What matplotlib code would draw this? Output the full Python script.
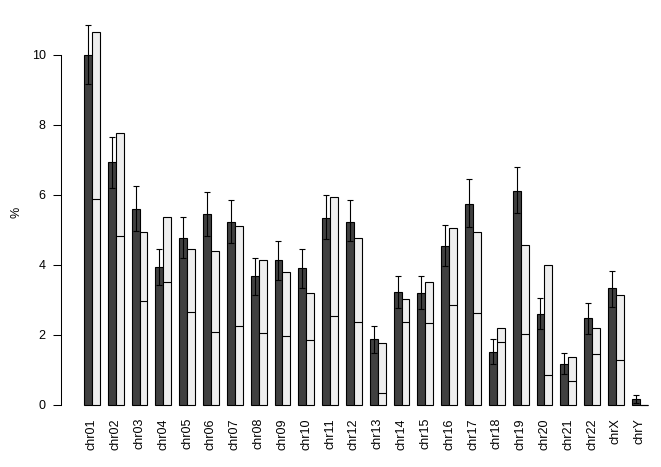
import numpy as np
import matplotlib
matplotlib.use("Agg")
import matplotlib.pyplot as plt

plt.rcParams['font.family'] = ['Liberation Sans', 'DejaVu Sans']

labels = ["chr%02d" % i for i in range(1, 23)] + ["chrX", "chrY"]
dark = [10.0, 6.93, 5.59, 3.93, 4.77, 5.44, 5.21, 3.68, 4.13, 3.90, 5.34, 5.23,
        1.86, 3.22, 3.20, 4.54, 5.73, 1.51, 6.12, 2.60, 1.16, 2.47, 3.32, 0.15]
err_hi = [10.85, 7.66, 6.25, 4.46, 5.36, 6.07, 5.84, 4.18, 4.67, 4.44, 5.99, 5.86,
          2.24, 3.68, 3.68, 5.14, 6.44, 1.87, 6.80, 3.04, 1.48, 2.91, 3.83, 0.27]
err_lo = [9.17, 6.19, 4.95, 3.41, 4.18, 4.82, 4.61, 3.12, 3.55, 3.32, 4.73, 4.67,
          1.47, 2.75, 2.72, 3.95, 5.09, 1.17, 5.48, 2.17, 0.88, 2.03, 2.80, 0.03]
light = [10.65, 7.78, 4.92, 5.36, 4.44, 4.40, 5.11, 4.14, 3.80, 3.19, 5.93, 4.76,
         1.76, 3.03, 3.49, 5.04, 4.92, 2.19, 4.56, 3.99, 1.36, 2.19, 3.12, 0.0]
light_mark = [5.87, 4.82, 2.97, 3.51, 2.65, 2.07, 2.24, 2.05, 1.95, 1.85, 2.52, 2.36,
              0.33, 2.36, 2.32, 2.84, 2.61, 1.79, 2.01, 0.83, 0.67, 1.44, 1.28, 0.0]

W, H = 661, 467
fig = plt.figure(figsize=(W / 100, H / 100), dpi=100)
ax = fig.add_axes([61.4 / W, (H - 415) / H, (W - 61.4) / W, 415 / H])

n = len(labels)
x = 3 * np.arange(n) + 1
dark = np.array(dark)
light = np.array(light)

ax.bar(x, dark, width=1, align='edge', color='#404040', edgecolor='black', linewidth=0.8)
ax.bar(x + 1, light, width=1, align='edge', color='#eeeeee', edgecolor='black', linewidth=0.8)
ax.hlines(light_mark, x + 1, x + 2, color='black', linewidth=0.8)

yerr = [dark - np.array(err_lo), np.array(err_hi) - dark]
ax.errorbar(x + 0.5, dark, yerr=yerr, fmt='none', ecolor='black',
            elinewidth=0.8, capsize=1.9, capthick=0.8)

ax.set_xlim(-1.84, -1.84 + (W - 61.4) / 7.94)
ax.set_ylim(-0.3, 11.57)

ax.set_xticks(x + 1)
ax.set_xticklabels(labels, rotation=90, fontsize=9)
ax.tick_params(axis='x', length=0, pad=2.2)

ax.set_yticks([0, 2, 4, 6, 8, 10])
ax.tick_params(axis='y', length=5.8, width=0.75, labelsize=9, pad=5.5)

for s in ['top', 'right', 'bottom']:
    ax.spines[s].set_visible(False)
ax.spines['left'].set_bounds(0, 10)
ax.spines['left'].set_linewidth(0.75)

fig.text(17 / W, 1 - 212 / H, "%", rotation=90, fontsize=9, ha='center', va='center')

fig.savefig("out.png", dpi=100)
